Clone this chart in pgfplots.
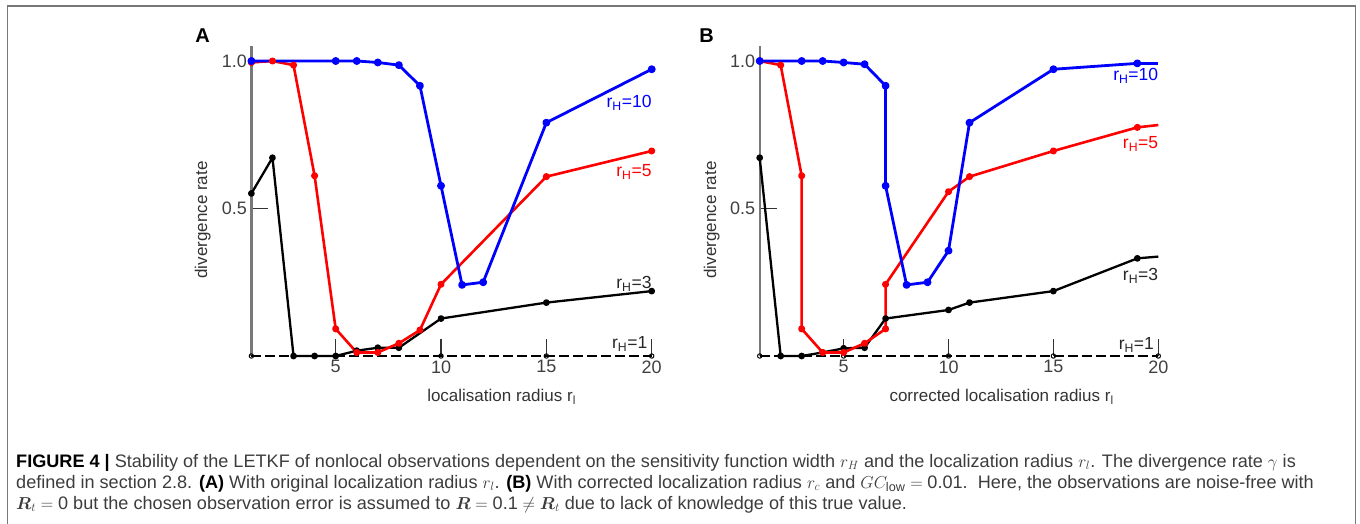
\documentclass[border=0pt]{standalone}
\usepackage{amsmath}
\usepackage{fontspec}
\setmainfont{Liberation Sans}
\usepackage{pgfplots}
\pgfplotsset{compat=1.18}

\definecolor{captxt}{RGB}{60,60,60}
\definecolor{axgray}{RGB}{120,120,120}

\tikzset{
  lbl/.style={anchor=east, font=\fontsize{17.5}{19}\selectfont, inner sep=0pt},
}

\pgfplotsset{
  panel/.style={
    scale only axis,
    height=309.75pt,
    xmin=1, xmax=20, ymin=0, ymax=1.05,
    clip=false,
    axis lines*=left,
    axis line style={-},
    x axis line style={draw=none},
    y axis line style={draw=axgray, line width=2.2pt},
    xtick={5,10,15,20},
    ytick={0.5,1},
    yticklabels={0.5,1.0},
    tick align=inside,
    major tick length=17pt,
    tick style={black!80, line width=1.4pt},
    /pgf/number format/assume math mode=true,
    ticklabel style={font=\fontsize{18}{20}\selectfont, text=black!75},
    xticklabel style={yshift=-1pt},
    yticklabel style={xshift=-1pt},
    label style={font=\fontsize{17}{19}\selectfont, text=black!80},
    every axis plot/.append style={line join=round},
  },
  c10/.style={blue, line width=2.8pt, mark=*, mark size=2.5pt},
  c5/.style={red, line width=2.6pt, mark=*, mark size=2.2pt},
  c3/.style={black, line width=2.3pt, mark=*, mark size=2.2pt},
  c1/.style={black, line width=2pt, dash pattern=on 10pt off 4pt,
             mark=o, mark size=2.2pt, mark options={solid, line width=1pt}},
}

\begin{document}
\begin{tikzpicture}
\useasboundingbox (0pt,0pt) rectangle (1360pt,523pt);
% frame
\draw[axgray, line width=1.4pt] (7.7pt,-2pt) -- (7.7pt,517pt) -- (1355.7pt,517pt) -- (1355.7pt,-2pt);

% panel letters
\node[font=\fontsize{20}{22}\selectfont\bfseries] at (202.5pt,487.3pt) {A};
\node[font=\fontsize{20}{22}\selectfont\bfseries] at (706.7pt,487pt) {B};

% ---------------- panel A ----------------
\begin{axis}[panel, at={(251.4pt,167pt)}, anchor=south west, width=400.3pt,
  xlabel={localisation radius r\textsubscript{l}},
  ylabel={divergence rate},
  xlabel style={at={(axis description cs:0.625,-0.131)}, anchor=center},
  ylabel style={at={(axis description cs:-0.1217,0.439)}, anchor=center},
]
\addplot[black, line width=2pt] coordinates {(1,1) (2,1)};
\addplot[c1] coordinates {(1,0) (5,0) (10,0) (15,0) (20,0)};
\addplot[c3] coordinates {(1,0.551) (2,0.672) (3,0) (4,0) (5,0) (6,0.018) (7,0.028) (8,0.028) (10,0.127) (15,0.181) (20,0.22)};
\addplot[c5] coordinates {(1,0.995) (2,1.0) (3,0.986) (4,0.611) (5,0.092) (6,0.012) (7,0.012) (8,0.043) (9,0.088) (10,0.243) (15,0.608) (20,0.695)};
\addplot[c10] coordinates {(1,1.0) (5,1.0) (6,1.0) (7,0.995) (8,0.986) (9,0.916) (10,0.577) (11,0.241) (12,0.25) (15,0.791) (20,0.972)};
\node[lbl, blue] at (axis cs:20,0.858) {r\textsubscript{H}=10};
\node[lbl, red] at (axis cs:20,0.624) {r\textsubscript{H}=5};
\node[lbl, black!85] at (axis cs:20,0.244) {r\textsubscript{H}=3};
\node[lbl, black!85] at (axis cs:19.8,0.041) {r\textsubscript{H}=1};
\end{axis}

% ---------------- panel B ----------------
\begin{axis}[panel, at={(759.7pt,167pt)}, anchor=south west, width=398.6pt,
  xlabel={corrected localisation radius r\textsubscript{l}},
  ylabel={divergence rate},
  xlabel style={at={(axis description cs:0.607,-0.131)}, anchor=center},
  ylabel style={at={(axis description cs:-0.1204,0.439)}, anchor=center},
]
\addplot[black, line width=2pt] coordinates {(1,1) (2,1)};
\addplot[c1] coordinates {(1,0) (5,0) (10,0) (15,0) (20,0)};
\addplot[c3] coordinates {(1,0.672) (2,0) (3,0) (4,0.012) (5,0.026) (6,0.028) (7,0.127) (10,0.156) (11,0.181) (15,0.22) (19,0.331)};
\addplot[black, line width=2.3pt] coordinates {(19,0.331) (20,0.337)};
\addplot[c5] coordinates {(1,1.0) (2,0.986) (3,0.611) (3,0.092) (4,0.012) (5,0.012) (6,0.043) (7,0.092) (7,0.243) (10,0.557) (11,0.608) (15,0.695) (19,0.775)};
\addplot[red, line width=2.6pt] coordinates {(19,0.775) (20,0.783)};
\addplot[c10] coordinates {(1,1.0) (3,1.0) (4,1.0) (5,0.995) (6,0.989) (7,0.916) (7,0.577) (8,0.241) (9,0.25) (10,0.357) (11,0.791) (15,0.972) (19,0.992)};
\addplot[blue, line width=2.8pt] coordinates {(19,0.992) (20,0.992)};
\node[lbl, blue] at (axis cs:20,0.949) {r\textsubscript{H}=10};
\node[lbl, red] at (axis cs:20,0.719) {r\textsubscript{H}=5};
\node[lbl, black!85] at (axis cs:20,0.271) {r\textsubscript{H}=3};
\node[lbl, black!85] at (axis cs:19.8,0.037) {r\textsubscript{H}=1};
\end{axis}

% caption
\begin{scope}[every node/.style={anchor=base west, inner sep=0pt, text=captxt,
    font=\fontsize{18.1}{21}\selectfont}]
\node at (16pt,56pt) {\textcolor{black}{\textbf{FIGURE 4 |}} Stability of the LETKF of nonlocal observations dependent on the sensitivity function width $r_H$ and the localization radius $r_l$. The divergence rate $\gamma$ is};
\node at (16pt,35pt) {defined in section 2.8. \textcolor{black}{\textbf{(A)}} With original localization radius $r_l$. \textcolor{black}{\textbf{(B)}} With corrected localization radius $r_c$ and $GC_{\mathrm{low}} = \text{0.01}$.\ \ Here, the observations are noise-free with};
\node at (16pt,14pt) {$\boldsymbol{R}_t = \text{0}$ but the chosen observation error is assumed to $\boldsymbol{R} = \text{0.1} \neq \boldsymbol{R}_t$ due to lack of knowledge of this true value.};
\end{scope}
\end{tikzpicture}
\end{document}
